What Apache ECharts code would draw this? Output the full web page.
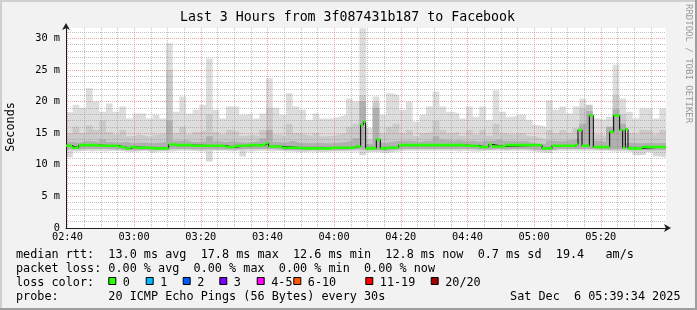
<!DOCTYPE html>
<html><head><meta charset="utf-8">
<script src="https://cdn.jsdelivr.net/npm/echarts@6/dist/echarts.min.js"></script>
<style>html,body{margin:0;padding:0;background:#f2f2f2;}#c{width:697px;height:310px;}</style>
</head><body><div id="c"></div>
<script>
// ---------- data ----------
const windowStart = '02:39:34';   // left edge of the plot
const windowMinutes = 180;        // "Last 3 Hours"
const sampleMinutes = 2;          // one smoke sample every 2 minutes

// lowest ping of each sample (ms)
const smokeMin = [11.2,12.1,12.2,12.1,12.2,12.1,12.2,12.2,12.1,12.0,12.1,12.2,11.9,12.1,12.1,12.1,12.2,12.2,12.2,12.1,12.1,10.5,12.2,
  12.2,12.1,12.2,11.3,12.1,12.2,12.2,12.1,12.2,12.1,12.1,12.0,12.0,12.1,12.0,12.0,12.1,12.1,12.1,12.1,12.1,11.5,
  12.0,12.0,11.8,12.0,12.1,12.2,12.2,12.2,12.2,12.2,12.2,12.2,12.2,12.1,12.2,12.1,12.1,12.2,12.2,12.2,12.2,12.2,12.2,
  12.2,12.1,12.0,11.9,11.8,12.2,12.2,12.2,12.2,12.2,12.2,12.2,12.2,12.1,12.1,12.1,12.0,11.5,11.6,12.0,11.3,11.2];
// bottom of the dense (dark) smoke
const smokeCoreLo = [12.4,12.4,12.5,12.5,12.5,12.5,12.4,12.4,12.3,12.3,12.3,12.3,12.3,12.3,12.3,12.5,12.5,12.5,12.4,12.4,12.4,12.4,12.4,
  12.4,12.4,12.4,12.5,12.5,12.5,12.5,12.5,12.4,12.3,12.3,12.3,12.3,12.3,12.3,12.3,12.3,12.3,12.3,12.4,12.4,12.3,
  12.3,12.3,12.2,12.3,12.4,12.5,12.5,12.5,12.5,12.5,12.5,12.5,12.5,12.5,12.5,12.5,12.4,12.4,12.4,12.5,12.4,12.5,12.5,
  12.5,12.4,12.3,12.3,12.3,12.5,12.5,12.5,12.5,12.5,12.5,12.4,12.4,12.4,12.4,12.4,12.3,12.3,12.3,12.3,12.3,12.3];
// top of the dense (dark) smoke
const smokeCoreHi = [13.6,13.5,13.8,13.7,13.6,14.0,13.6,13.5,13.6,13.4,13.5,13.5,13.4,13.5,13.6,17.0,13.8,13.9,13.6,13.6,13.7,14.5,13.7,
  13.6,13.7,13.6,13.5,13.6,13.7,14.2,15.5,13.6,13.5,13.8,13.5,13.4,13.4,13.5,13.4,13.4,13.5,13.6,13.8,14.2,20.0,
  13.3,19.0,13.5,13.6,13.8,13.8,13.8,13.6,13.8,13.8,14.5,14.0,13.8,13.9,13.7,13.8,13.6,13.8,13.8,14.0,13.7,13.8,13.7,
  13.8,13.5,13.3,13.3,13.8,13.7,13.8,13.9,14.2,16.5,18.5,13.8,13.6,16.0,18.8,16.5,13.5,13.4,13.4,13.5,13.4,13.5];
// top of the medium smoke
const smokeMid = [15.0,16.0,15.0,16.2,15.5,17.0,15.2,14.8,15.5,14.5,14.8,14.6,14.3,14.8,15.0,25.0,15.0,16.0,14.8,15.2,15.5,18.0,15.2,
  14.8,15.5,15.2,14.6,14.8,14.5,15.5,19.0,14.8,14.5,16.5,15.0,14.8,14.5,15.0,14.5,14.6,14.8,15.0,16.0,16.5,21.0,
  14.0,20.0,15.0,16.0,16.5,15.0,15.5,14.5,15.0,15.2,17.0,15.5,15.0,15.2,14.6,15.5,14.8,15.5,14.6,16.5,15.0,14.8,15.0,
  15.0,14.6,14.3,14.0,15.5,15.0,15.5,15.0,15.8,19.0,19.5,14.8,14.6,16.0,21.0,18.0,15.0,14.8,15.5,15.5,14.8,15.5];
// highest ping of each sample (ms)
const smokeMax = [18.3,19.5,19.0,22.1,20.0,18.4,19.7,18.4,19.2,17.3,18.1,18.1,17.3,17.9,17.3,29.2,18.4,20.8,18.1,18.7,19.5,26.8,18.7,
  17.3,19.2,19.2,17.9,18.1,17.3,18.1,23.7,19.0,17.9,21.3,19.2,18.7,17.1,18.1,17.3,17.3,17.6,17.9,20.5,20.0,31.6,
  15.8,20.8,17.9,21.3,21.0,18.7,20.0,16.8,17.9,19.2,21.6,19.2,18.4,18.1,17.3,19.2,17.6,19.2,17.1,21.8,18.4,17.6,17.9,
  17.9,17.1,16.3,16.0,20.2,18.7,19.2,18.1,19.2,20.5,18.4,17.3,17.1,17.6,25.8,20.5,18.4,17.3,18.9,18.9,17.3,18.9];

// median rtt: minutes after window start where it changes, and the new value (ms)
const medianTimes = [0,1.8,3.8,9.8,15.8,17.8,19.3,20.8,25.8,30.8,33.3,37.8,47.8,50.8,54.8,59.8,60.8,64.8,70.8,79.8,
  86.8,88.4,89.2,89.9,93.1,94.3,95.3,96.3,99.8,119.8,123.8,126.8,127.8,131.8,142.8,145.8,152.8,153.6,154.8,157.0,
  158.2,163.1,164.3,166.1,167.0,167.8,168.6,172.8];
const medianValues = [13.0,12.7,13.1,13.0,12.8,12.6,12.8,12.7,12.6,13.2,13.1,13.0,12.8,13.0,13.1,13.4,12.9,12.7,12.6,12.7,
  12.9,16.3,16.8,12.6,14.0,12.6,12.6,12.7,13.1,13.0,12.8,13.2,12.9,13.1,12.6,13.0,13.2,15.5,13.0,17.8,
  12.8,15.2,17.8,15.5,12.7,15.6,12.6,12.8];

// axes
const xLabelTicks = ['02:40','03:00','03:20','03:40','04:00','04:20','04:40','05:00','05:20'];
const xMinorTicks = ['02:45','02:50','02:55','03:05','03:10','03:15','03:25','03:30','03:35','03:45','03:50','03:55',
  '04:05','04:10','04:15','04:25','04:30','04:35','04:45','04:50','04:55','05:05','05:10','05:15','05:25','05:30','05:35'];
const yLabelTicks = [0,5,10,15,20,25,30];
const yMinorTicks = [1,2,3,4,6,7,8,9,11,12,13,14,16,17,18,19,21,22,23,24,26,27,28,29,31];
const yMax = 31.63;

// texts
const titleText = 'Last 3 Hours from 3f087431b187 to Facebook';
const yAxisName = 'Seconds';
const watermark = 'RRDTOOL / TOBI OETIKER';
const legendRows = [
  'median rtt:  13.0 ms avg  17.8 ms max  12.6 ms min  12.8 ms now  0.7 ms sd  19.4   am/s',
  'packet loss: 0.00 % avg  0.00 % max  0.00 % min  0.00 % now',
  'loss color:',
  'probe:       20 ICMP Echo Pings (56 Bytes) every 30s'
];
const dateText = 'Sat Dec  6 05:39:34 2025';
const lossLabels = ['0','1','2','3','4-5','6-10','11-19','20/20'];
const lossColors = ['#26ff00','#00b8ff','#0059ff','#7e00ff','#ff00ff','#ff5500','#ff0000','#a10000'];

// ---------- layout / style ----------
const MONO = '"DejaVu Sans Mono", monospace';
const lossBoxX = [108.3,145.7,182.7,219.3,256.7,293.3,365.3,430.7];
const rowBaseline = [258, 272, 286, 300];

// ---------- build ----------
const toMin = s => { const p = s.split(':').map(Number); return p[0]*60 + p[1] + (p[2] || 0)/60; };
const x0 = toMin(windowStart);
const x1 = x0 + windowMinutes;
const fmtClock = v => { const m = Math.round(v); const h = Math.floor(m/60), mm = m % 60; return String(h).padStart(2,'0') + ':' + String(mm).padStart(2,'0'); };

const sampleX = smokeMax.map((_, i) => x0 + i * sampleMinutes);
const stepped = (xs, vals) => { const d = vals.map((v, i) => [xs[i], v]); d.push([x1, vals[vals.length - 1]]); return d; };

// each smoke layer is an area from its upper edge down to the axis; later layers paint over earlier ones
const smokeLayer = (name, vals, color) => ({
  type: 'line', name, data: stepped(sampleX, vals), step: 'end',
  symbol: 'none', showSymbol: false, silent: true, z: 1,
  lineStyle: { width: 0, opacity: 0 },
  areaStyle: { color, opacity: 1, origin: 'start' }
});

const medX = medianTimes.map(t => x0 + t);
// horizontal pieces of the median (the loss-coloured band); vertical jumps stay black
const medSegments = [];
medianValues.forEach((v, i) => {
  const xa = medX[i], xb = i + 1 < medX.length ? medX[i + 1] : x1;
  medSegments.push([xa, v], [xb, v], [xb, null]);
});

const series = [
  smokeLayer('max', smokeMax, '#dddddd'),
  smokeLayer('mid', smokeMid, '#cacaca'),
  smokeLayer('coreHi', smokeCoreHi, '#b0b0b0'),
  smokeLayer('coreLo', smokeCoreLo, '#d8d8d8'),
  smokeLayer('min', smokeMin, '#ffffff'),
  { type: 'line', name: 'median', data: stepped(medX, medianValues), step: 'end', symbol: 'none', silent: true, z: 6,
    lineStyle: { color: '#000', width: 1 } },
  { type: 'line', name: 'medianBand', data: medSegments, connectNulls: false, symbol: 'none', silent: true, z: 7,
    lineStyle: { color: lossColors[0], width: 2.6, cap: 'butt' } }
];

const gridGray = 'rgba(143,143,143,0.55)';
const gridRed = 'rgba(222,79,79,0.5)';

const graphics = [
  { type: 'rect', shape: { x: 0, y: 0, width: 697, height: 2 }, style: { fill: '#cfcfcf' }, silent: true },
  { type: 'rect', shape: { x: 0, y: 0, width: 2, height: 310 }, style: { fill: '#cfcfcf' }, silent: true },
  { type: 'rect', shape: { x: 695, y: 0, width: 2, height: 310 }, style: { fill: '#9e9e9e' }, silent: true },
  { type: 'rect', shape: { x: 0, y: 308, width: 697, height: 2 }, style: { fill: '#9e9e9e' }, silent: true },
  { type: 'text', x: 347.5, y: 24, style: { text: titleText, font: '13.25px ' + MONO, fill: '#000', align: 'center', textAlign: 'center', verticalAlign: 'bottom', textVerticalAlign: 'bottom' } },
  { type: 'text', x: 11, y: 127, rotation: Math.PI / 2, style: { text: yAxisName, font: '11.8px ' + MONO, fill: '#000', align: 'center', textAlign: 'center', verticalAlign: 'middle', textVerticalAlign: 'middle' } },
  { type: 'text', x: 688.5, y: 4, rotation: -Math.PI / 2, style: { text: watermark, font: '9px ' + MONO, fill: '#999999', align: 'left', textAlign: 'left', verticalAlign: 'middle', textVerticalAlign: 'middle' } }
];
legendRows.forEach((t, i) => graphics.push({ type: 'text', x: 16, y: rowBaseline[i] - 3.5,
  style: { text: t, font: '11.8px ' + MONO, fill: '#000', align: 'left', textAlign: 'left', verticalAlign: 'middle', textVerticalAlign: 'middle' } }));
graphics.push({ type: 'text', x: 680.5, y: rowBaseline[3] - 3.5,
  style: { text: dateText, font: '11.8px ' + MONO, fill: '#000', align: 'right', textAlign: 'right', verticalAlign: 'middle', textVerticalAlign: 'middle' } });
lossLabels.forEach((lab, i) => {
  graphics.push({ type: 'rect', shape: { x: lossBoxX[i] + 0.5, y: 277.5, width: 7, height: 7 }, style: { fill: lossColors[i], stroke: '#000', lineWidth: 1 } });
  graphics.push({ type: 'text', x: lossBoxX[i] + 14.5, y: rowBaseline[2] - 3.5,
    style: { text: lab, font: '11.8px ' + MONO, fill: '#000', align: 'left', textAlign: 'left', verticalAlign: 'middle', textVerticalAlign: 'middle' } });
});

const chart = echarts.init(document.getElementById('c'), null, { renderer: 'canvas' });
chart.setOption({
  animation: false,
  backgroundColor: '#f2f2f2',
  grid: { left: 66, right: 31, top: 28, bottom: 82, show: true, backgroundColor: '#ffffff', borderWidth: 0 },
  xAxis: [
    { type: 'value', min: x0, max: x1, position: 'bottom', z: 3,
      axisLine: { show: false }, axisTick: { show: false, customValues: xMinorTicks.map(toMin) },
      axisLabel: { show: false },
      splitLine: { show: true, lineStyle: { color: gridGray, width: 1, type: [1, 1] } } },
    { type: 'value', min: x0, max: x1, position: 'bottom', z: 5,
      axisLine: { show: true, onZero: false, lineStyle: { color: '#1f1f1f', width: 1 }, symbol: ['none', 'arrow'], symbolSize: [6, 7], symbolOffset: [0, 5] },
      axisTick: { show: false, customValues: xLabelTicks.map(toMin) },
      axisLabel: { show: true, customValues: xLabelTicks.map(toMin), formatter: v => fmtClock(v), color: '#000', fontFamily: MONO, fontSize: 10.3, margin: 4 },
      splitLine: { show: true, lineStyle: { color: gridRed, width: 1, type: [1, 1] } } }
  ],
  yAxis: [
    { type: 'value', min: 0, max: yMax, position: 'left', z: 3,
      axisLine: { show: false }, axisTick: { show: false, customValues: yMinorTicks },
      axisLabel: { show: false },
      splitLine: { show: true, lineStyle: { color: gridGray, width: 1, type: [1, 1] } } },
    { type: 'value', min: 0, max: yMax, position: 'left', z: 4,
      axisLine: { show: true, onZero: false, lineStyle: { color: '#1f1f1f', width: 1 }, symbol: ['none', 'arrow'], symbolSize: [6, 7], symbolOffset: [0, 5] },
      axisTick: { show: false, customValues: yLabelTicks },
      axisLabel: { show: true, customValues: yLabelTicks, formatter: v => (v === 0 ? '0' : v + ' m'), color: '#000', fontFamily: MONO, fontSize: 10.3, margin: 6 },
      splitLine: { show: true, lineStyle: { color: gridRed, width: 1, type: [1, 1] } } }
  ],
  series: series.map(s => Object.assign({ xAxisIndex: 0, yAxisIndex: 0, animation: false }, s)),
  graphic: { elements: graphics }
});
</script>
</body></html>
